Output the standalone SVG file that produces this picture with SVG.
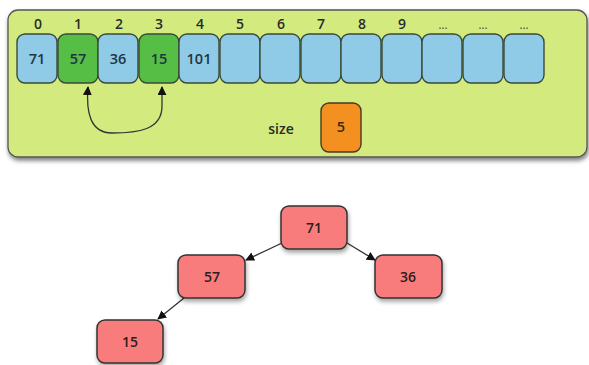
<svg xmlns="http://www.w3.org/2000/svg" width="589" height="365" viewBox="0 0 589 365">
<defs>
<filter id="sh" x="-10%" y="-10%" width="130%" height="140%">
<feDropShadow dx="1" dy="3" stdDeviation="2" flood-color="#000" flood-opacity="0.5"/>
</filter>
<filter id="sh2" x="-20%" y="-20%" width="150%" height="160%">
<feDropShadow dx="1" dy="3" stdDeviation="2" flood-color="#000" flood-opacity="0.35"/>
</filter>
<marker id="ah" viewBox="0 0 10 10" refX="9" refY="5" markerWidth="9" markerHeight="9" orient="auto-start-reverse" markerUnits="userSpaceOnUse">
<path d="M0,0 L10,5 L0,10 z" fill="#111"/>
</marker>
</defs>
<style>
text{font-family:"Open Sans","Liberation Sans",sans-serif;font-weight:600;text-anchor:middle}
.idx{font-size:14px;fill:#2a2a2a}
.dots{font-size:11px;fill:#555}
.cell{stroke:#3a4a3a;stroke-width:1.4}
.blue{fill:#8fcbe6}
.green{fill:#56bd45}
.val{font-size:14.5px;fill:#1d3545}
.tn{fill:#f87b7b;stroke:#333;stroke-width:1.5}
.tv{font-size:14px;fill:#2a2020}
.edge{fill:none;stroke:#333;stroke-width:1.3}
</style>
<g id="panel">
<rect x="8" y="10" width="579" height="147" rx="10" fill="#d3eb7e" stroke="#555" stroke-width="1.3" filter="url(#sh)"/>
</g>
<g id="indices">
<text class="idx" x="38" y="29">0</text>
<text class="idx" x="78" y="29">1</text>
<text class="idx" x="119" y="29">2</text>
<text class="idx" x="159" y="29">3</text>
<text class="idx" x="200" y="29">4</text>
<text class="idx" x="240" y="29">5</text>
<text class="idx" x="281" y="29">6</text>
<text class="idx" x="321" y="29">7</text>
<text class="idx" x="362" y="29">8</text>
<text class="idx" x="402" y="29">9</text>
<text class="dots" x="443" y="29">...</text>
<text class="dots" x="483" y="29">...</text>
<text class="dots" x="524" y="29">...</text>
</g>
<g id="cell0"><rect class="cell blue" x="17" y="34" width="40" height="49" rx="8"/><text class="val" x="37" y="64">71</text></g>
<g id="cell1"><rect class="cell green" x="58" y="34" width="40" height="49" rx="8"/><text class="val" x="78" y="64">57</text></g>
<g id="cell2"><rect class="cell blue" x="98" y="34" width="40" height="49" rx="8"/><text class="val" x="118" y="64">36</text></g>
<g id="cell3"><rect class="cell green" x="139" y="34" width="40" height="49" rx="8"/><text class="val" x="159" y="64">15</text></g>
<g id="cell4"><rect class="cell blue" x="179" y="34" width="40" height="49" rx="8"/><text class="val" x="199" y="64">101</text></g>
<g id="cell5"><rect class="cell blue" x="220" y="34" width="40" height="49" rx="8"/></g>
<g id="cell6"><rect class="cell blue" x="260" y="34" width="40" height="49" rx="8"/></g>
<g id="cell7"><rect class="cell blue" x="301" y="34" width="40" height="49" rx="8"/></g>
<g id="cell8"><rect class="cell blue" x="341" y="34" width="40" height="49" rx="8"/></g>
<g id="cell9"><rect class="cell blue" x="382" y="34" width="40" height="49" rx="8"/></g>
<g id="cell10"><rect class="cell blue" x="422" y="34" width="40" height="49" rx="8"/></g>
<g id="cell11"><rect class="cell blue" x="463" y="34" width="40" height="49" rx="8"/></g>
<g id="cell12"><rect class="cell blue" x="504" y="34" width="40" height="49" rx="8"/></g>
<g id="size">
<text class="idx" x="281" y="134">size</text>
<rect x="321" y="103" width="40" height="49" rx="8" fill="#f39020" stroke="#4a3a20" stroke-width="1.4"/>
<text class="val" x="341" y="132" style="fill:#3a2a10">5</text>
</g>
<g id="connectors">
<path class="edge" d="M88,87 C86,112 90,133 112,133 C138,133 162,130 162,106 L162,87" marker-start="url(#ah)" marker-end="url(#ah)"/>
<line class="edge" x1="282" y1="243" x2="246" y2="260" marker-end="url(#ah)"/>
<line class="edge" x1="347" y1="243" x2="375" y2="260" marker-end="url(#ah)"/>
<line class="edge" x1="184" y1="298" x2="158" y2="319" marker-end="url(#ah)"/>
</g>
<g id="node71"><rect class="tn" x="281" y="206" width="66" height="43" rx="8" filter="url(#sh2)"/><text class="tv" x="314" y="233">71</text></g>
<g id="node57"><rect class="tn" x="178" y="255" width="67" height="43" rx="8" filter="url(#sh2)"/><text class="tv" x="212" y="282">57</text></g>
<g id="node36"><rect class="tn" x="375" y="255" width="67" height="43" rx="8" filter="url(#sh2)"/><text class="tv" x="408" y="282">36</text></g>
<g id="node15"><rect class="tn" x="97" y="320" width="66" height="43" rx="8" filter="url(#sh2)"/><text class="tv" x="130" y="347">15</text></g>
</svg>
